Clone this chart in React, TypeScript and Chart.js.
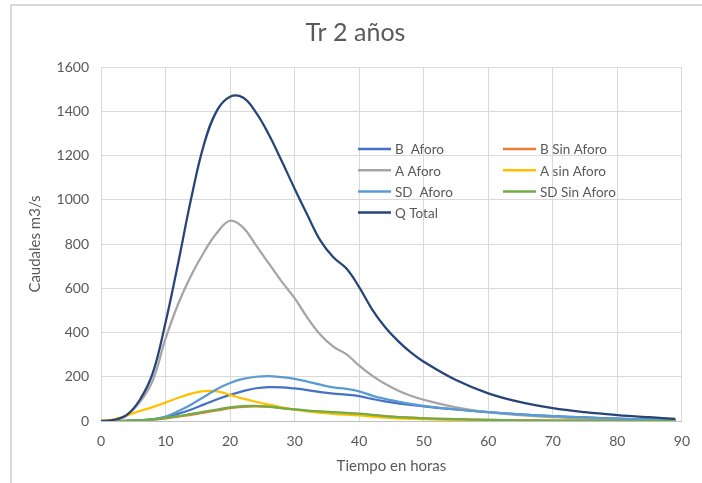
import React, { useEffect, useRef } from "react";
import { Chart, registerables } from "chart.js";

Chart.register(...registerables);

const hours = [0, 2, 4, 6, 8, 10, 12, 14, 16, 18, 20, 22, 24, 26, 28, 30, 32, 34, 36, 38, 40, 42, 44, 46, 48, 50, 55, 60, 65, 70, 75, 80, 85, 89];

const bAforo = [0, 0, 1, 3, 7, 17, 33, 52, 75, 98, 118, 135, 148, 153, 152, 147, 140, 131, 124, 119, 112, 100, 89, 80, 73, 66, 52, 40, 30, 22, 16, 11, 7, 4];
const bSinAforo = [0, 0, 1, 2, 6, 12, 20, 28, 38, 48, 58, 64, 66, 64, 58, 52, 46, 41, 37, 34, 31, 27, 22, 18, 15, 12, 8, 5, 3, 2, 1.5, 1, 0.6, 0.4];
const aAforo = [0, 3, 25, 85, 182, 372, 532, 660, 765, 852, 905, 875, 795, 712, 630, 555, 466, 390, 336, 302, 250, 205, 168, 138, 114, 96, 62, 40, 26, 17, 11, 7, 5, 3];
const aSinAforo = [0, 8, 25, 45, 63, 83, 105, 124, 135, 134, 118, 101, 87, 74, 62, 51, 43, 37, 32, 29, 25, 20, 15, 12, 10, 8, 5, 3, 2, 1, 1, 0.5, 0.3, 0.2];
const sdAforo = [0, 0, 1, 3, 8, 20, 45, 75, 110, 145, 172, 190, 200, 203, 198, 190, 178, 164, 152, 145, 134, 115, 100, 88, 77, 68, 52, 40, 30, 22, 16, 11, 7, 4];
const sdSinAforo = [0, 0, 1, 3, 7, 14, 22, 32, 42, 52, 62, 67, 68, 65, 58, 52, 47, 43, 40, 37, 33, 28, 22, 18, 15, 12, 8, 5, 3, 2, 1.5, 1, 0.6, 0.4];
const qTotal = [0, 5, 28, 95, 215, 445, 720, 1010, 1255, 1405, 1466, 1462, 1395, 1295, 1175, 1050, 930, 815, 740, 690, 605, 505, 425, 362, 310, 268, 185, 125, 85, 58, 40, 27, 17, 10];

const seriesNames = ["B  Aforo", "B Sin Aforo", "A Aforo", "A sin Aforo", "SD  Aforo", "SD Sin Aforo", "Q Total"];
const seriesColors = ["#4472C4", "#ED7D31", "#A5A5A5", "#FFC000", "#5B9BD5", "#70AD47", "#264478"];
const seriesValues = [bAforo, bSinAforo, aAforo, aSinAforo, sdAforo, sdSinAforo, qTotal];

const chartTitle = "Tr 2 años";
const xTitle = "Tiempo en horas";
const yTitle = "Caudales m3/s";

const FONT = "Lato, 'Open Sans', sans-serif";
const TEXT = "#595959";

const legendPlugin = {
  id: "customLegend",
  afterDatasetsDraw(chart: any) {
    const ctx = chart.ctx;
    const { left, top } = chart.chartArea;
    ctx.save();
    ctx.font = `13.5px ${FONT}`;
    ctx.fillStyle = TEXT;
    ctx.textBaseline = "middle";
    ctx.textAlign = "left";
    chart.data.datasets.forEach((ds: any, i: number) => {
      const col = i === 6 ? 0 : i % 2;
      const row = i === 6 ? 3 : Math.floor(i / 2);
      const x = left + 257 + col * 145;
      const y = top + 82 + row * 21.2;
      ctx.strokeStyle = ds.borderColor;
      ctx.lineWidth = 2.5;
      ctx.beginPath();
      ctx.moveTo(x, y);
      ctx.lineTo(x + 33, y);
      ctx.stroke();
      ctx.fillText(ds.label, x + 37, y + 1);
    });
    ctx.restore();
  },
};

export default function App() {
  const ref = useRef<HTMLCanvasElement | null>(null);

  useEffect(() => {
    if (!ref.current) return;
    const n = seriesNames.length;
    const chart = new Chart(ref.current, {
      type: "line",
      data: {
        datasets: seriesNames.map((name, i) => ({
          label: name,
          data: hours.map((h, j) => ({ x: h, y: seriesValues[i][j] })),
          borderColor: seriesColors[i],
          backgroundColor: seriesColors[i],
          borderWidth: 2.25,
          pointRadius: 0,
          fill: false,
          tension: 0.4,
          order: n - 1 - i,
        })),
      },
      options: {
        responsive: false,
        animation: false,
        layout: { padding: { left: 28, right: 19, top: 0, bottom: 0 } },
        plugins: {
          legend: { display: false },
          tooltip: { enabled: false },
          title: {
            display: true,
            text: chartTitle,
            color: TEXT,
            font: { family: FONT, size: 25, weight: "normal" as const, lineHeight: 1.2 },
            padding: { top: 18, bottom: 19 },
          },
        },
        scales: {
          x: {
            type: "linear",
            min: 0,
            max: 90,
            ticks: { stepSize: 10, color: TEXT, font: { family: FONT, size: 14 }, padding: 12 },
            grid: { color: "#d9d9d9", drawTicks: false },
            border: { color: "#bfbfbf" },
            title: {
              display: true,
              text: xTitle,
              color: TEXT,
              font: { family: FONT, size: 15, lineHeight: 1.2 },
              padding: { top: 0, bottom: 8 },
            },
            afterFit(scale: any) {
              scale.height = 62;
            },
          },
          y: {
            min: 0,
            max: 1600,
            ticks: {
              stepSize: 200,
              color: TEXT,
              font: { family: FONT, size: 14 },
              padding: 12,
              callback: (v: any) => String(v),
            },
            grid: { color: "#d9d9d9", drawTicks: false },
            border: { color: "#d9d9d9" },
            title: {
              display: true,
              text: yTitle,
              color: TEXT,
              font: { family: FONT, size: 15, lineHeight: 1.0 },
              padding: { top: 0, bottom: 0 },
            },
            afterFit(scale: any) {
              scale.width = 73;
            },
          },
        },
      },
      plugins: [legendPlugin],
    });
    return () => chart.destroy();
  }, []);

  return (
    <div style={{ position: "absolute", left: 0, top: 0, width: 702, height: 483, overflow: "hidden", background: "#fff" }}>
      <div
        style={{
          position: "absolute",
          left: 10,
          top: 4,
          width: 760,
          height: 560,
          borderLeft: "2px solid #d9d9d9",
          borderTop: "2px solid #d9d9d9",
        }}
      />
      <canvas ref={ref} width={702} height={483} style={{ position: "absolute", left: 0, top: 0, width: 702, height: 483 }} />
    </div>
  );
}
